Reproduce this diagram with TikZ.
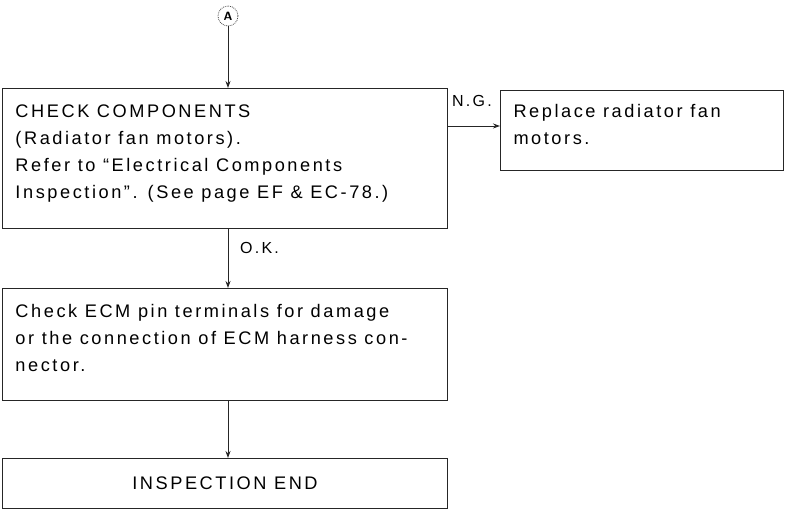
\documentclass[tikz,border=0pt]{standalone}
\usepackage{fontspec}
\usetikzlibrary{arrows.meta,calc}
\newfontfamily\diagfont[LetterSpace=14]{Liberation Sans}
\newcommand\boxtext[5]{\parbox[c][#2][t]{#1}{\raggedright\leftskip=#3\relax\fontsize{18.2}{27}\selectfont\rule{0pt}{#4}#5\par}}
\tikzset{
  flowbox/.style={draw=black!85, line width=1pt, inner sep=0pt, anchor=north west, font=\diagfont},
  arr/.style={draw=black!85, line width=0.9pt, -{Stealth[length=7pt,width=5pt]}},
  lbl/.style={font=\diagfont\fontsize{16}{18}\selectfont, inner sep=0pt, anchor=base west},
}
\begin{document}
\begin{tikzpicture}[x=1pt,y=-1pt]
\useasboundingbox (0,0) rectangle (788,510);
\node[draw=black!70, densely dotted, line width=0.8pt, circle, minimum size=20pt, inner sep=0pt, font=\sffamily\bfseries\fontsize{12}{12}\selectfont] (A) at (228,16) {A};
\node[flowbox] (b1) at (2,88) {\boxtext{445pt}{140pt}{13pt}{29pt}{CHECK COMPONENTS\\(Radiator fan motors).\\Refer to “Electrical Components\\Inspection”. (See page EF \& EC-78.)}};
\node[flowbox] (b2) at (500,90) {\boxtext{283pt}{80pt}{13pt}{27pt}{Replace radiator fan\\motors.}};
\node[flowbox] (b3) at (2,288) {\boxtext{445pt}{112pt}{13pt}{29pt}{Check ECM pin terminals for damage\\or the connection of ECM harness con-\\nector.}};
\node[flowbox, minimum width=445pt, minimum height=50pt, font=\diagfont\fontsize{18.2}{20}\selectfont] (b4) at (2,458) {INSPECTION END};
\draw[arr] (A.south) -- (A.south |- b1.north);
\coordinate (ngs) at ([yshift=-38pt]b1.north east);
\draw[arr] (ngs) -- (ngs -| b2.west);
\node[lbl] (ng) at (452,107) {N.G.};
\coordinate (oks) at (b1.south -| A);
\draw[arr] (oks) -- (oks |- b3.north);
\node[lbl] (ok) at (240,254) {O.K.};
\coordinate (ends) at (b3.south -| A);
\draw[arr] (ends) -- (ends |- b4.north);
\end{tikzpicture}
\end{document}
